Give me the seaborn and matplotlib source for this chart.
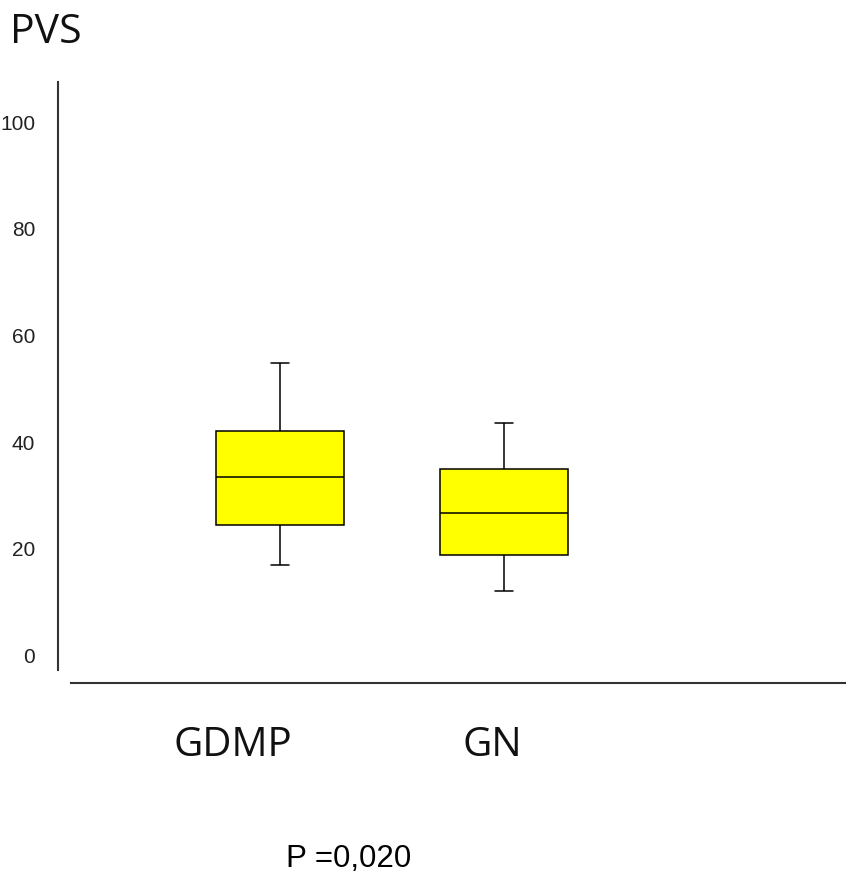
import numpy as np
import pandas as pd
import matplotlib
matplotlib.use("Agg")
import matplotlib.pyplot as plt
import seaborn as sns

groups = ["GDMP", "GN"]
# five-number summaries: low whisker, Q1, median, Q3, high whisker
gdmp = [16.9, 24.5, 33.5, 42.1, 54.9]
gn = [12.1, 18.8, 26.7, 35.0, 43.6]
yticks = [0, 20, 40, 60, 80, 100]
title = "PVS"
pvalue = "P =0,020"

df = pd.DataFrame({"grupo": np.repeat(groups, len(gdmp)), "valor": gdmp + gn})

sns.set_style("white")
plt.rcParams["font.family"] = ["Liberation Sans", "DejaVu Sans"]

W, H = 846, 873
fig = plt.figure(figsize=(W / 100, H / 100), dpi=100)
ax = fig.add_axes([58 / W, 1 - 670 / H, (W - 58) / W, (670 - 82) / H])

sns.boxplot(data=df, x="grupo", y="valor", ax=ax, color="#ffff00", saturation=1,
            width=0.571, whis=(0, 100), linecolor="black", linewidth=1.1,
            capwidths=0.08)

ax.set_xlim(-0.991, 2.527)
ax.set_ylim(-2.72, 107.5)
ax.set_yticks(yticks)
ax.set_yticklabels([str(t) for t in yticks])
ax.set_xticks([])
ax.set_xlabel("")
ax.set_ylabel("")
# "100" has to fit inside the left edge of the figure
ax.tick_params(axis="y", length=0, pad=16.3, labelsize=15, labelcolor="#222222")

for s in ["top", "right"]:
    ax.spines[s].set_visible(False)
for s in ["left", "bottom"]:
    ax.spines[s].set_color("#333333")
    ax.spines[s].set_linewidth(1.5)
ax.spines["bottom"].set_position(("outward", 13 * 0.72))
ax.spines["bottom"].set_bounds(-0.933, 2.527)

cat_font = ["Open Sans", "DejaVu Sans"]
fig.text(9.5 / W, 1 - 42.7 / H, title, family=cat_font, fontsize=29.5,
         ha="left", va="baseline", color="#111111")
fig.text(173.6 / W, 1 - 756 / H, groups[0], family=cat_font, fontsize=29,
         ha="left", va="baseline", color="#111111")
fig.text(462.6 / W, 1 - 756 / H, groups[1], family=cat_font, fontsize=29,
         ha="left", va="baseline", color="#111111")
fig.text(285.5 / W, 1 - 867 / H, pvalue, fontsize=22.5,
         ha="left", va="baseline", color="black")

fig.savefig("out.png", dpi=100)
